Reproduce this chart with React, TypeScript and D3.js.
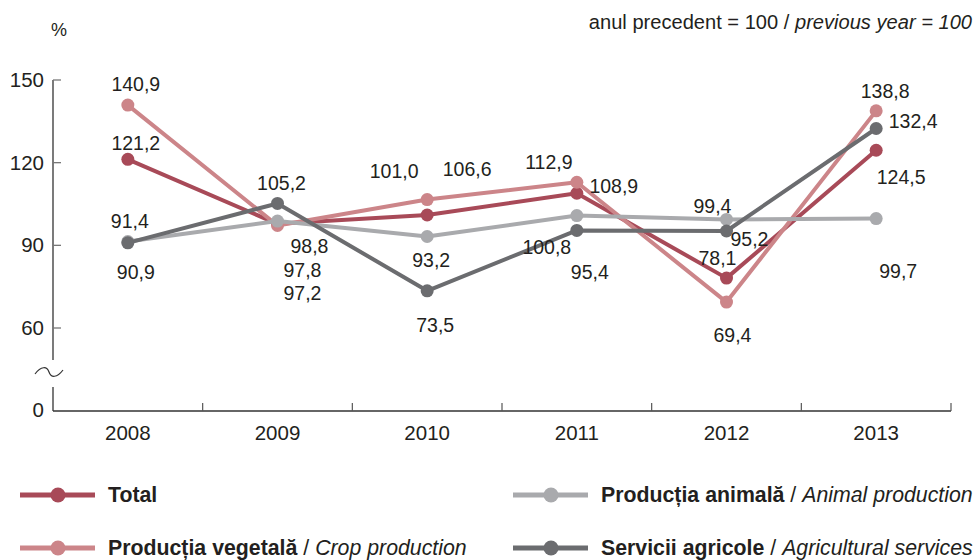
import React from "react";
import * as d3 from "d3";

const years = ["2008", "2009", "2010", "2011", "2012", "2013"];
const totalValues = [121.2, 97.8, 101.0, 108.9, 78.1, 124.5];
const cropValues = [140.9, 97.2, 106.6, 112.9, 69.4, 138.8];
const animalValues = [91.4, 98.8, 93.2, 100.8, 99.4, 99.7];
const servicesValues = [90.9, 105.2, 73.5, 95.4, 95.2, 132.4];
const yTicks = [60, 90, 120, 150];

// label offsets (dx, dy) relative to each point, per series
const totalLabelOffsets = [[8, -16], [25, 46], [-33, -44], [37, -7], [-9, -20], [25, 27]];
const cropLabelOffsets = [[8, -21], [25, 68], [40, -31], [-28, -20], [6, 33], [9, -20]];
const animalLabelOffsets = [[2, -20], [32, 25], [4, 23], [-30, 31], [-14, -13], [22, 52]];
const servicesLabelOffsets = [[8, 29], [4, -20], [8, 34], [13, 42], [23, 8], [37, -7]];

const fmt = (v: number) => v.toFixed(1).replace(".", ",");

const series = [
  { name: "Total", values: totalValues, offsets: totalLabelOffsets, color: "#a84a58" },
  { name: "Crop", values: cropValues, offsets: cropLabelOffsets, color: "#cc8589" },
  { name: "Animal", values: animalValues, offsets: animalLabelOffsets, color: "#a9aaad" },
  { name: "Services", values: servicesValues, offsets: servicesLabelOffsets, color: "#6b6c6f" },
];

export default function App() {
  const W = 978, H = 560;
  const x0 = 53, x1 = 951, baseY = 411;
  const x = d3.scaleBand<string>().domain(years).range([x0, x1]);
  const y = d3.scaleLinear().domain([60, 150]).range([328, 80]);
  const cx = (i: number) => (x(years[i]) as number) + x.bandwidth() / 2;
  const line = d3.line<number>().x((_, i) => cx(i)).y((d) => y(d));
  const font = "'Liberation Sans', Arial, Helvetica, sans-serif";
  const boundaries = years.map((yr) => x(yr) as number).concat([x1]).slice(1);

  const breakPath = `M35,374 C41,366 47,366 49,372 C51,378 57,378 63,370`;

  const legend = [
    { s: series[0], lx: 20, ly: 495, bold: "Total", ital: "" },
    { s: series[1], lx: 20, ly: 548, bold: "Producția vegetală", ital: "Crop production" },
    { s: series[2], lx: 513, ly: 495, bold: "Producția animală", ital: "Animal production" },
    { s: series[3], lx: 513, ly: 548, bold: "Servicii agricole", ital: "Agricultural services" },
  ];

  return (
    <svg width={W} height={H} style={{ position: "absolute", left: 0, top: 0 }} fontFamily={font}>
      <rect width={W} height={H} fill="#fff" />
      <text x={972} y={29} textAnchor="end" fontSize={20.1} fill="#231f20">
        anul precedent = 100 / <tspan fontStyle="italic">previous year = 100</tspan>
      </text>
      <text x={59} y={36} textAnchor="middle" fontSize={18} fill="#231f20">%</text>

      {/* y axis */}
      <line x1={x0} x2={x0} y1={80} y2={360} stroke="#333" strokeWidth={1.3} />
      <line x1={x0} x2={x0} y1={387} y2={baseY} stroke="#333" strokeWidth={1.3} />
      <path d={breakPath} fill="none" stroke="#333" strokeWidth={1.2} />
      {yTicks.map((t) => (
        <g key={t}>
          <line x1={x0} x2={x0 + 8} y1={y(t)} y2={y(t)} stroke="#777" strokeWidth={1.3} />
          <text x={44} y={y(t) + 7} textAnchor="end" fontSize={20.5} fill="#231f20">{t}</text>
        </g>
      ))}
      <text x={44} y={baseY + 6} textAnchor="end" fontSize={20.5} fill="#231f20">0</text>

      {/* x axis */}
      <line x1={x0} x2={x1} y1={baseY} y2={baseY} stroke="#333" strokeWidth={1.3} />
      {boundaries.map((b, i) => (
        <line key={i} x1={b} x2={b} y1={baseY} y2={baseY - 8} stroke="#555" strokeWidth={1.2} />
      ))}
      {years.map((yr, i) => (
        <text key={yr} x={cx(i)} y={440} textAnchor="middle" fontSize={20.5} fill="#231f20">{yr}</text>
      ))}

      {/* series */}
      {series.map((s) => (
        <g key={s.name}>
          <path d={line(s.values) || ""} fill="none" stroke={s.color} strokeWidth={4} strokeLinejoin="round" />
          {s.values.map((v, i) => (
            <circle key={i} cx={cx(i)} cy={y(v)} r={6.5} fill={s.color} />
          ))}
        </g>
      ))}
      {series.map((s) =>
        s.values.map((v, i) => (
          <text key={s.name + i} x={cx(i) + s.offsets[i][0]} y={y(v) + s.offsets[i][1] + 7}
            textAnchor="middle" fontSize={19.5} fill="#231f20">{fmt(v)}</text>
        ))
      )}

      {/* legend */}
      {legend.map((l) => (
        <g key={l.bold}>
          <line x1={l.lx} x2={l.lx + 75} y1={l.ly} y2={l.ly} stroke={l.s.color} strokeWidth={5} />
          <circle cx={l.lx + 38} cy={l.ly} r={7.5} fill={l.s.color} />
          <text x={l.lx + 88} y={l.ly + 7} fontSize={21.3} fill="#231f20">
            <tspan fontWeight="bold">{l.bold}</tspan>
            {l.ital ? <tspan> / </tspan> : null}
            {l.ital ? <tspan fontStyle="italic">{l.ital}</tspan> : null}
          </text>
        </g>
      ))}
    </svg>
  );
}
